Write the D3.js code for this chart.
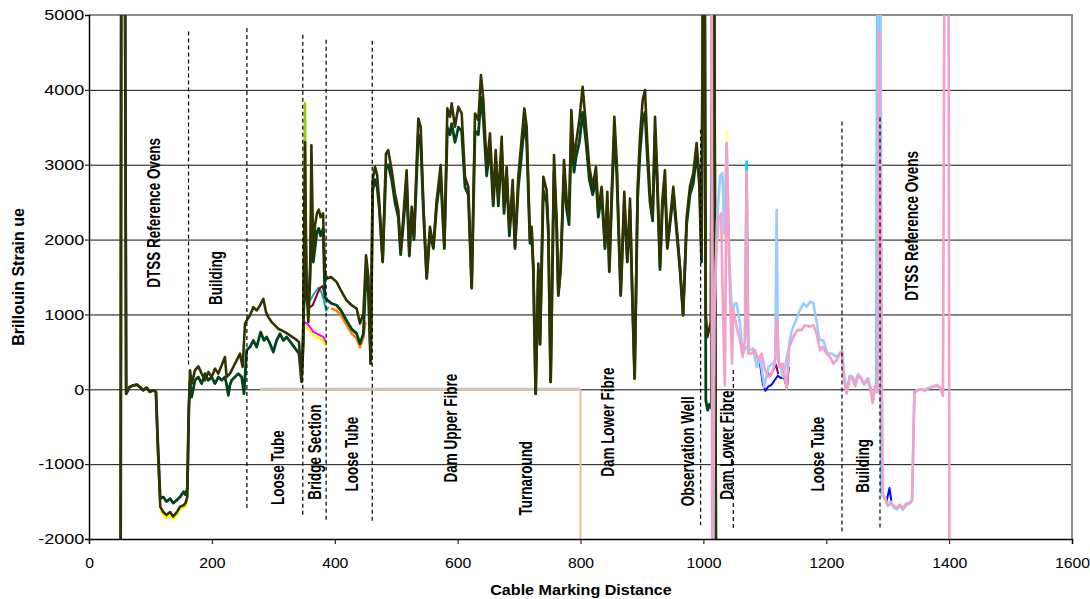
<!DOCTYPE html>
<html>
<head>
<meta charset="utf-8">
<script src="https://cdn.jsdelivr.net/npm/d3@7"></script>
<style>
  body { margin: 0; background: #fff; }
  svg { display: block; }
  text { font-family: "Liberation Sans", Arial, sans-serif; fill: #000; }
</style>
</head>
<body>
<svg id="chart" width="1090" height="599"></svg>
<script>
// axis ticks
const xTicks = [0, 200, 400, 600, 800, 1000, 1200, 1400, 1600];
const yTicks = [-2000, -1000, 0, 1000, 2000, 3000, 4000, 5000];

// cable 1 traces: [distance, strain]
const oliveA = [
  [51.5,-2500],[52.5,6000],[58.5,6000],[60.5,-60],[66,30],[72,55],[78,65],[83,30],[88,-15],[94,20],[99,-35],[105,-15],[109,-40],
  [112,-770],[116,-1570],[121,-1640],[126,-1680],[132,-1640],[137,-1700],[143,-1640],[148,-1570],[154,-1550],[157,-1520],[160,-1440],
  [162.5,-300],[164.4,253],[167.1,76],[172.5,253],[177.9,307],[183.4,209],[188.8,120],[194.2,231],[199.6,164],[205.1,276],[210.5,209],
  [215.9,320],[221.3,431],[224,164],[229.5,209],[234.9,298],[240.3,387],[245.8,476],[250.1,298],[253.9,875],[256.6,920],[262,987],
  [267.5,1098],[272.9,1053],[278.3,1120],[283.7,1209],[288.1,1031],[291.9,964],[297.3,898],[302.7,853],[308.1,809],[313.6,787],
  [319,764],[327.1,720],[335.3,675],[341.8,631],[346,120],[349,600],[351.6,3300],[354,1400],[357,900],[360,1500],[362,3260],
  [365,1800],[368,2200],[371,2350],[374,2400],[377,2300],[381,2350],[384,1540],[388,1480],[394,1500],[403,1435],[410,1320],
  [419,1190],[428,1120],[435.7,1078],[441,878],[446.6,1011],[450.9,1791],[454.7,1502],[458.5,343],[461.7,2794],[465.5,2972],
  [469,2861],[472.6,2482],[478,1724],[483.4,3150],[487,3195],[492.7,2927],[498,2616],[503.5,2393],[507.3,1836],[511.6,2304],
  [517,2927],[521.4,1814],[525.2,2437],[529,2036],[536,3618],[539.9,3507],[544.2,2482],[549.6,1502],[555,2170],[560.5,1903],
  [565.9,2527],[572.4,2995],[578.4,1903],[583.3,3752],[587.6,3640],[590.3,3819],[595.7,3507],[601.2,3774],[606.6,3685],[612,2838],
  [617.4,2705],[622.9,1368],[628.3,3685],[633.7,3596],[638,4197],[641.9,3863],[647.3,2972],[652.7,3418],[658,2527],[662,3195],
  [666.3,2527],[671.7,3373],[675.5,2437],[679.8,2972],[684.2,2125],[689.6,2794],[693.4,1903],[698.8,2838],[702.6,3195],[708.6,3752],
  [712.4,3507],[717.8,1992],[720.5,2170],[723.2,1635],[727,-60],[731.4,1680],[734.1,610],[739.5,2838],[744.9,2660],[747.6,2170],
  [751.4,98],[756.9,3128],[761.2,2259],[763.9,1279],[767.7,1635],[773.1,3061],[777.5,2527],[781.3,2304],[785.1,3730],[789.4,3061],
  [792.7,3284],[798.1,3596],[803.5,4042],[809,3507],[814.4,2972],[819.8,2705],[825.2,2972],[829,2393],[834.4,2705],[839.9,1903],
  [843.7,2638],[846.9,1591],[850.7,2616],[855.1,3640],[858.9,3061],[865.4,1279],[871.3,2638],[876.2,1724],[880.6,2549],[884.3,1279],
  [888.1,143],[893,2705],[896.8,3373],[901.2,3863],[905,3997],[908.8,3284],[913.1,2616],[917.4,2304],[921.3,3640],[925.1,2838],
  [929.4,1635],[933.2,2527],[937.5,2927],[941.3,1903],[945.6,2259],[951.1,2705],[956.5,2170],[961.9,1640],[967,990],[972.8,2300],
  [978.2,2710],[983.6,2890],[989,3290],[993.4,2840],[997,1800],[999.5,6000],[1002,6000],[1004,1000],[1006.5,700],[1009.5,800],
  [1012,900],[1014.5,6000],[1017.5,6000],[1020.5,-2500]
];

const greenA = [
  [51.5,-2500],[52.5,6000],[58.5,6000],[60.5,-60],[66,30],[72,50],[78,60],[83,30],[88,-10],[94,20],[99,-30],[105,-15],[109,-35],
  [112,-700],[116,-1460],[121,-1440],[126,-1500],[132,-1460],[137,-1520],[143,-1480],[148,-1440],[154,-1370],[157,-1410],[160,-1320],
  [162.5,-240],[164.4,100],[167.1,-102],[172.5,120],[177.9,164],[183.4,76],[188.8,209],[194.2,120],[199.6,164],[205.1,76],[210.5,164],
  [215.9,120],[221.3,164],[224,60],[226.8,-80],[229.5,60],[232.2,120],[237.6,164],[243,209],[248.5,164],[252.3,-58],[256.6,520],
  [262,564],[267.5,653],[272.9,564],[279.4,764],[284.8,653],[289.2,698],[294.6,609],[300,498],[305.4,653],[310.9,742],[316.3,653],
  [321.7,698],[329.8,609],[338,520],[341.8,480],[346,100],[349,900],[351.6,2600],[354,1200],[357,1100],[360,1600],[362,2400],
  [365,1700],[368,1900],[371,2100],[374,2150],[377,2050],[381,2150],[384,1234],[388,1190],[394,1150],[403,1123],[410,1056],
  [419,922],[428,800],[435.7,744],[441,610],[446.6,744],[450.9,1546],[454.7,1300],[458.5,343],[461.7,2650],[465.5,2800],
  [469,2700],[472.6,2400],[478,1700],[483.4,2950],[487,3000],[492.7,2800],[498,2500],[503.5,2300],[507.3,1800],[511.6,2200],
  [517,2750],[521.4,1780],[525.2,2350],[529,2000],[536,3400],[539.9,3300],[544.2,2400],[549.6,1480],[555,2100],[560.5,1880],
  [565.9,2450],[572.4,2850],[578.4,1880],[583.3,3500],[587.6,3400],[590.3,3550],[595.7,3300],[601.2,3500],[606.6,3450],[612,2700],
  [617.4,2600],[622.9,1350],[628.3,3450],[633.7,3400],[638,3900],[641.9,3600],[647.3,2850],[652.7,3250],[658,2450],[662,3050],
  [666.3,2450],[671.7,3200],[675.5,2350],[679.8,2850],[684.2,2050],[689.6,2650],[693.4,1880],[698.8,2700],[702.6,3000],[708.6,3550],
  [712.4,3300],[717.8,1950],[720.5,2100],[723.2,1600],[727,-60],[731.4,1600],[734.1,600],[739.5,2650],[744.9,2500],[747.6,2100],
  [751.4,98],[756.9,2900],[761.2,2150],[763.9,1250],[767.7,1600],[773.1,2850],[777.5,2400],[781.3,2200],[785.1,3450],[789.4,2900],
  [792.7,3100],[798.1,3300],[803.5,3700],[809,3300],[814.4,2800],[819.8,2600],[825.2,2800],[829,2300],[834.4,2600],[839.9,1880],
  [843.7,2500],[846.9,1570],[850.7,2500],[855.1,3400],[858.9,2900],[865.4,1250],[871.3,2500],[876.2,1700],[880.6,2400],[884.3,1250],
  [888.1,143],[893,2550],[896.8,3150],[901.2,3600],[905,3700],[908.8,3100],[913.1,2500],[917.4,2250],[921.3,3400],[925.1,2700],
  [929.4,1600],[933.2,2400],[937.5,2750],[941.3,1880],[945.6,2200],[951.1,2600],[956.5,2100],[961.9,1600],[967,990],[972.8,2200],
  [978.2,2600],[983.6,2750],[989,3150],[993.4,2750],[997,1700],[999.5,6000],[1002,6000],[1004,-150],[1007,-280],[1010,-200],
  [1013,-250],[1014.5,6000],[1017.5,6000],[1020.5,-2500]
];

// short stretches where other cable 1 traces show
const yellowOven = [[116,-1600],[121,-1680],[126,-1720],[132,-1680],[137,-1730],[143,-1680],[148,-1600],[154,-1580],[157,-1560],[160,-1470]];
const yellowBridge = [[350,820],[354.3,820],[359.8,780],[365.2,720],[370.6,690],[376,670],[381.5,650],[385.3,580]];
const magentaBridge = [[346,150],[350,900],[354.3,878],[359.8,833],[365.2,766],[370.6,744],[376,722],[381.5,700],[385.3,633]];
const tealBridge = [[349,900],[352,1250],[356,1230],[360,1190],[365,1260],[370,1320],[374,1360],[378,1300],[382,1200],[386,1050],[390,1100]];
const maroonBridge = [[356,1150],[360,1100],[364,1120],[368,1200],[372,1280],[376,1350],[380,1380],[384,1250]];
const orangeTube = [[394,1080],[403,1050],[410,990],[419,860],[428,740],[435.7,680],[441,560],[446.6,690],[450,900]];
const limeSpike = [[349,700],[351.6,3820],[353.5,1400]];

// flat traces at zero
const grayFlat = [[278,8],[800,8]];
const tanFlat = [[278,-8],[800,-8],[800,-2500]];

// cable 2 traces
const pinkB = [
  [1013.5,6000],[1015,-2500],[1017.5,950],[1021,1800],[1025,2300],[1029,2350],[1032,1000],[1035,50],[1037.9,3290],[1042.2,1640],
  [1046.6,344],[1048.7,1058],[1054.2,835],[1059.6,656],[1063.9,433],[1067.7,656],[1070.4,2910],[1073.1,478],[1078.6,478],[1084,522],
  [1089.4,388],[1094.8,478],[1100.3,254],[1105.7,165],[1111.1,210],[1116.5,344],[1119.3,946],[1123.6,299],[1129,344],[1135.5,9],
  [1139.9,567],[1146.4,701],[1152.9,790],[1159.9,790],[1165.4,857],[1172.4,835],[1178.9,857],[1184.4,745],[1189.8,522],[1194.1,567],
  [1200.6,478],[1206.1,433],[1211.5,344],[1216.9,388],[1222.3,478],[1225.6,500],[1228.8,121],[1233.2,-58],[1238.6,165],[1242,143],
  [1247,41],[1250,169],[1255,169],[1260,80],[1266,124],[1271,36],[1275.5,-187],[1279,36],[1283.5,-40],[1286,4780],[1292,-1400],
  [1296,-1450],[1300,-1550],[1305,-1520],[1310,-1560],[1315,-1580],[1320,-1540],[1325,-1590],[1330,-1530],[1335,-1520],[1339.7,-1480],
  [1343.5,-40],[1350,-10],[1355,0],[1360,-20],[1365,10],[1370,20],[1375,40],[1380,60],[1385,30],[1390,-90],[1392.5,6000],[1399,6000],
  [1400.5,-2500]
];

const lightBlueB = [
  [1016,-2500],[1018,1000],[1022,2200],[1027,2843],[1031,2888],[1034,2085],[1037.9,3290],[1042.2,1728],[1046.6,1013],[1051,1147],
  [1054.2,1147],[1059.6,879],[1063.9,478],[1070.4,567],[1076,522],[1081,545],[1087,299],[1092,433],[1099,31],[1106,299],[1113,344],
  [1117,400],[1119.3,2397],[1121.5,400],[1124,344],[1130,165],[1137,478],[1144,790],[1151,924],[1157,1058],[1163,1147],[1168,1103],
  [1174,1170],[1179,1147],[1183,969],[1189,656],[1195,656],[1202,478],[1209,478],[1217,433],[1222,480],[1226,522],[1229,200],
  [1233,-20],[1238,180],[1243,170],[1248,60],[1252,200],[1257,150],[1262,60],[1268,150],[1273,0],[1276,-150],[1280,30],[1282.5,-30],
  [1284,6000],[1288,6000],[1291,-1420],[1296,-1470],[1300,-1560],[1305,-1500],[1310,-1580],[1315,-1600],[1320,-1560],[1325,-1610],
  [1330,-1550],[1335,-1530],[1339.7,-1490],[1343.5,-30],[1350,0],[1360,-10],[1370,30],[1380,50],[1385,20],[1390,-80]
];

const lavenderB = [[1012.5,6000],[1014,-2500]];
const yellowTip = [[1034,2000],[1037.9,3446],[1042,1700]];
const cyanTip = [[1067.7,650],[1070.4,3044],[1073.1,480]];
const cyanSpike = [[1281.5,-30],[1283,6000],[1287,6000],[1289.5,-1400]];
const blueLow = [[1092,350],[1097,60],[1101,-20],[1106,40],[1111,60],[1116,120],[1121,180],[1126,150],[1131,160],[1136,20],[1139,300]];
const blueOven = [[1298,-1500],[1303,-1320],[1306,-1500]];
const purpleLow = [[1104,220],[1109,180],[1114,260],[1118,330],[1122,200]];

// section markers: distance, top and bottom strain of the dashed line
const markerX = [162, 257, 348, 386, 461, 995.5, 1048.7, 1225.6, 1287.5];
const markerTop = [4780, 4827, 4737, 4670, 4657, 3467, 257, 3578, 3630];
const markerBottom = [300, -1606, -1705, -1772, -1790, -1816, -1883, -1906, -1870];

// section names and where they sit (distance, strain at text centre)
const sectionNames = ['DTSS Reference Ovens', 'Building', 'Loose Tube', 'Bridge Section', 'Loose Tube', 'Dam Upper Fibre',
  'Turnaround', 'Dam Lower Fibre', 'Observation Well', 'Dam Lower Fibre', 'Loose Tube', 'Building', 'DTSS Reference Ovens'];
const sectionX = [105, 206.7, 307.6, 367.8, 427.2, 589.2, 711.3, 844.7, 974.9, 1037.6, 1185.7, 1258.9, 1338.7];
const sectionY = [2357, 1487, -1047, -840, -867, -519, -1188, -439, -827, -746, -867, -1023, 2183];

const svg = d3.select('#chart');
const plotLeft = 89, plotRight = 1072, plotTop = 15, plotBottom = 539;

const x = d3.scaleLinear().domain([0, 1600]).range([plotLeft, plotRight]);
const y = d3.scaleLinear().domain([-2000, 5000]).range([plotBottom, plotTop]);

svg.append('defs').append('clipPath').attr('id', 'plot')
  .append('rect').attr('x', plotLeft).attr('y', plotTop)
  .attr('width', plotRight - plotLeft).attr('height', plotBottom - plotTop);

// gridlines
svg.append('g')
  .attr('transform', `translate(${plotLeft},0)`)
  .call(d3.axisLeft(y).tickValues(yTicks).tickSize(-(plotRight - plotLeft)).tickFormat(''))
  .call((g) => g.select('.domain').remove())
  .call((g) => g.selectAll('line').attr('stroke', '#111').attr('stroke-width', 1));

// plot frame top and right
svg.append('path')
  .attr('d', `M${plotLeft},${plotTop}H${plotRight}V${plotBottom}`)
  .attr('fill', 'none').attr('stroke', '#8c8c8c').attr('stroke-width', 2);

const line = d3.line().x((d) => x(d[0])).y((d) => y(d[1]));
const lines = svg.append('g').attr('clip-path', 'url(#plot)');

function draw(data, color, w) {
  lines.append('path')
    .datum(data)
    .attr('fill', 'none')
    .attr('stroke', color)
    .attr('stroke-width', w)
    .attr('stroke-linejoin', 'round')
    .attr('d', line);
}

draw(tanFlat, '#dcc58f', 2);
draw(grayFlat, '#c4c4d4', 2);

draw(yellowOven, '#ffff00', 2.5);
draw(orangeTube, '#ff8000', 2.5);
draw(yellowBridge, '#ffff00', 2.5);
draw(magentaBridge, '#ff00ff', 2);
draw(tealBridge, '#20a0b0', 2);
draw(maroonBridge, '#800020', 2);
draw(limeSpike, '#99cc00', 2.5);
draw(greenA, '#00441b', 2.8);
draw(oliveA, '#333300', 2.6);

draw(lavenderB, '#c8b8e8', 2);
draw(cyanSpike, '#33ccff', 2.5);
draw(yellowTip, '#ffff99', 2.5);
draw(cyanTip, '#00ccff', 2.5);
draw(blueLow, '#0000ff', 2);
draw(blueOven, '#0000ff', 2);
draw(purpleLow, '#800080', 2);
draw(lightBlueB, '#99ccff', 2.6);
draw(pinkB, '#f4a0c8', 2.6);

// dashed section markers
svg.append('g').selectAll('line')
  .data(markerX)
  .join('line')
  .attr('x1', (d) => x(d)).attr('x2', (d) => x(d))
  .attr('y1', (d, i) => y(markerTop[i]))
  .attr('y2', (d, i) => y(markerBottom[i]))
  .attr('stroke', '#000')
  .attr('stroke-width', 1.2)
  .attr('stroke-dasharray', '4,3');

// section names
svg.append('g').selectAll('text')
  .data(sectionNames)
  .join('text')
  .attr('transform', (d, i) => `translate(${x(sectionX[i])},${y(sectionY[i])}) scale(1.3,1) rotate(-90)`)
  .attr('text-anchor', 'middle')
  .attr('dy', '0.35em')
  .style('font-size', '13.5px')
  .style('font-weight', 'bold')
  .text((d) => d);

// axes (plain hyphen for negatives, as in the original)
const yAxis = svg.append('g')
  .attr('transform', `translate(${plotLeft},0)`)
  .call(d3.axisLeft(y).tickValues(yTicks).tickSize(4).tickFormat((d) => String(d)));
yAxis.select('.domain').attr('stroke', '#000').attr('stroke-width', 1.5);
yAxis.selectAll('.tick text')
  .attr('x', -4)
  .attr('transform', 'scale(1.2,1)')
  .style('font-size', '15px');

const xAxis = svg.append('g')
  .attr('transform', `translate(0,${plotBottom})`)
  .call(d3.axisBottom(x).tickValues(xTicks).tickSize(5).tickPadding(13).tickFormat((d) => String(d)));
xAxis.select('.domain').attr('stroke', '#000').attr('stroke-width', 1.5);
xAxis.selectAll('.tick text')
  .attr('transform', 'scale(1.05,1)')
  .style('font-size', '15px');

// axis titles
svg.append('text')
  .attr('transform', 'translate(581,595) scale(1.15,1)')
  .attr('text-anchor', 'middle')
  .style('font-size', '14px')
  .style('font-weight', 'bold')
  .text('Cable Marking Distance');

svg.append('text')
  .attr('transform', 'translate(24,277) scale(1.05,1) rotate(-90)')
  .attr('text-anchor', 'middle')
  .style('font-size', '16px')
  .style('font-weight', 'bold')
  .text('Brillouin Strain ue');
</script>
</body>
</html>
